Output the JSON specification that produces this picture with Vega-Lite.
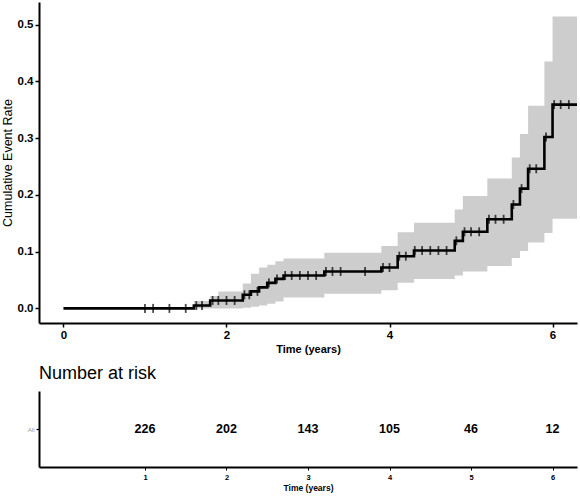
{
  "$schema": "https://vega.github.io/schema/vega-lite/v6.json",
  "background": "white",
  "padding": {"left": 1, "top": 2, "right": 3, "bottom": 1},
  "spacing": 10,
  "config": {
    "view": {"stroke": null},
    "font": "Liberation Sans",
    "axis": {
      "grid": false,
      "domainColor": "black",
      "domainWidth": 2,
      "tickColor": "black",
      "tickWidth": 1.5,
      "labelColor": "black",
      "titleColor": "black"
    }
  },
  "datasets": {
    "km": [
      {"t": 0, "est": 0, "lo": 0, "hi": 0},
      {"t": 1.6, "est": 0.005, "lo": 0, "hi": 0.013},
      {"t": 1.8, "est": 0.014, "lo": 0, "hi": 0.022},
      {"t": 1.9, "est": 0.014, "lo": 0, "hi": 0.03},
      {"t": 2.2, "est": 0.024, "lo": 0.001, "hi": 0.044},
      {"t": 2.3, "est": 0.03, "lo": 0.003, "hi": 0.061},
      {"t": 2.4, "est": 0.037, "lo": 0.005, "hi": 0.072},
      {"t": 2.5, "est": 0.045, "lo": 0.008, "hi": 0.077},
      {"t": 2.6, "est": 0.052, "lo": 0.012, "hi": 0.083},
      {"t": 2.7, "est": 0.058, "lo": 0.019, "hi": 0.088},
      {"t": 3.2, "est": 0.065, "lo": 0.026, "hi": 0.098},
      {"t": 3.9, "est": 0.072, "lo": 0.032, "hi": 0.11},
      {"t": 4.1, "est": 0.092, "lo": 0.045, "hi": 0.134},
      {"t": 4.3, "est": 0.102, "lo": 0.052, "hi": 0.151},
      {"t": 4.8, "est": 0.119, "lo": 0.058, "hi": 0.174},
      {"t": 4.9, "est": 0.135, "lo": 0.065, "hi": 0.198},
      {"t": 5.2, "est": 0.157, "lo": 0.0745, "hi": 0.229},
      {"t": 5.5, "est": 0.183, "lo": 0.089, "hi": 0.266},
      {"t": 5.6, "est": 0.211, "lo": 0.101, "hi": 0.307},
      {"t": 5.7, "est": 0.246, "lo": 0.116, "hi": 0.357},
      {"t": 5.9, "est": 0.302, "lo": 0.133, "hi": 0.435},
      {"t": 6.0, "est": 0.359, "lo": 0.158, "hi": 0.514},
      {"t": 6.3, "est": 0.359, "lo": 0.158, "hi": 0.514}
    ],
    "censor": [
      {"t": 1.0, "est": 0}, {"t": 1.1, "est": 0}, {"t": 1.3, "est": 0}, {"t": 1.5, "est": 0},
      {"t": 1.63, "est": 0.005}, {"t": 1.7, "est": 0.005},
      {"t": 1.83, "est": 0.014}, {"t": 1.9, "est": 0.014}, {"t": 2.0, "est": 0.014}, {"t": 2.1, "est": 0.014},
      {"t": 2.22, "est": 0.024}, {"t": 2.28, "est": 0.024}, {"t": 2.38, "est": 0.03},
      {"t": 2.52, "est": 0.045}, {"t": 2.62, "est": 0.052}, {"t": 2.72, "est": 0.058},
      {"t": 2.8, "est": 0.058}, {"t": 2.9, "est": 0.058}, {"t": 3.0, "est": 0.058}, {"t": 3.1, "est": 0.058},
      {"t": 3.22, "est": 0.065}, {"t": 3.3, "est": 0.065}, {"t": 3.4, "est": 0.065}, {"t": 3.7, "est": 0.065},
      {"t": 3.92, "est": 0.072}, {"t": 4.0, "est": 0.072},
      {"t": 4.12, "est": 0.092}, {"t": 4.2, "est": 0.092},
      {"t": 4.31, "est": 0.102}, {"t": 4.4, "est": 0.102}, {"t": 4.5, "est": 0.102}, {"t": 4.6, "est": 0.102}, {"t": 4.7, "est": 0.102},
      {"t": 4.82, "est": 0.119},
      {"t": 4.92, "est": 0.135}, {"t": 5.0, "est": 0.135}, {"t": 5.1, "est": 0.135},
      {"t": 5.22, "est": 0.157}, {"t": 5.3, "est": 0.157}, {"t": 5.4, "est": 0.157},
      {"t": 5.52, "est": 0.183}, {"t": 5.62, "est": 0.211}, {"t": 5.72, "est": 0.246}, {"t": 5.8, "est": 0.246},
      {"t": 5.92, "est": 0.302}, {"t": 6.02, "est": 0.359}, {"t": 6.1, "est": 0.359}, {"t": 6.2, "est": 0.359}
    ],
    "risk": [
      {"t": 1, "strata": "All", "n": 226},
      {"t": 2, "strata": "All", "n": 202},
      {"t": 3, "strata": "All", "n": 143},
      {"t": 4, "strata": "All", "n": 105},
      {"t": 5, "strata": "All", "n": 46},
      {"t": 6, "strata": "All", "n": 12}
    ]
  },
  "vconcat": [
    {
      "width": 538,
      "height": 321,
      "encoding": {
        "x": {
          "field": "t",
          "type": "quantitative",
          "scale": {"domain": [-0.3, 6.3], "nice": false, "zero": false},
          "axis": {
            "values": [0, 2, 4, 6],
            "format": "d",
            "labelFontSize": 11.5,
            "labelFontWeight": "bold",
            "tickSize": 4,
            "labelPadding": 2,
            "title": "Time (years)",
            "titleFontSize": 11,
            "titleFontWeight": "bold",
            "titlePadding": 3
          }
        }
      },
      "layer": [
        {
          "data": {"name": "km"},
          "mark": {"type": "area", "interpolate": "step-after", "color": "#cdcdcd"},
          "encoding": {
            "y": {
              "field": "lo",
              "type": "quantitative",
              "scale": {"domain": [-0.0257, 0.5397], "nice": false, "zero": false},
              "axis": {
                "values": [0, 0.1, 0.2, 0.3, 0.4, 0.5],
                "format": ".1f",
                "labelFontSize": 11.5,
                "labelFontWeight": "bold",
                "tickSize": 4,
                "labelPadding": 2,
                "title": "Cumulative Event Rate",
                "titleFontSize": 12.5,
                "titleFontWeight": "normal",
                "titlePadding": 3
              }
            },
            "y2": {"field": "hi"}
          }
        },
        {
          "data": {"name": "km"},
          "mark": {"type": "line", "interpolate": "step-after", "color": "black", "strokeWidth": 2.6},
          "encoding": {
            "y": {"field": "est", "type": "quantitative"}
          }
        },
        {
          "data": {"name": "censor"},
          "mark": {"type": "tick", "orient": "vertical", "size": 9, "thickness": 1.8, "color": "black"},
          "encoding": {
            "y": {"field": "est", "type": "quantitative"}
          }
        }
      ]
    },
    {
      "width": 538,
      "height": 76,
      "title": {
        "text": "Number at risk",
        "anchor": "start",
        "frame": "group",
        "fontSize": 18,
        "fontWeight": "normal",
        "color": "black",
        "offset": 8
      },
      "data": {"name": "risk"},
      "mark": {"type": "text", "fontSize": 12.5, "fontWeight": "bold", "color": "black"},
      "encoding": {
        "x": {
          "field": "t",
          "type": "quantitative",
          "scale": {"domain": [-0.3, 6.3], "nice": false, "zero": false},
          "axis": {
            "values": [1, 2, 3, 4, 5, 6],
            "format": "d",
            "labelFontSize": 7.5,
            "labelFontWeight": "bold",
            "tickSize": 3,
            "tickWidth": 1,
            "labelPadding": 3,
            "title": "Time (years)",
            "titleFontSize": 8.5,
            "titleFontWeight": "bold",
            "titlePadding": 3
          }
        },
        "y": {
          "field": "strata",
          "type": "nominal",
          "axis": {
            "title": null,
            "labelFontSize": 6,
            "labelColor": "#999999",
            "tickSize": 3,
            "tickWidth": 1.2,
            "labelPadding": 2
          }
        },
        "text": {"field": "n", "type": "quantitative"}
      }
    }
  ]
}
